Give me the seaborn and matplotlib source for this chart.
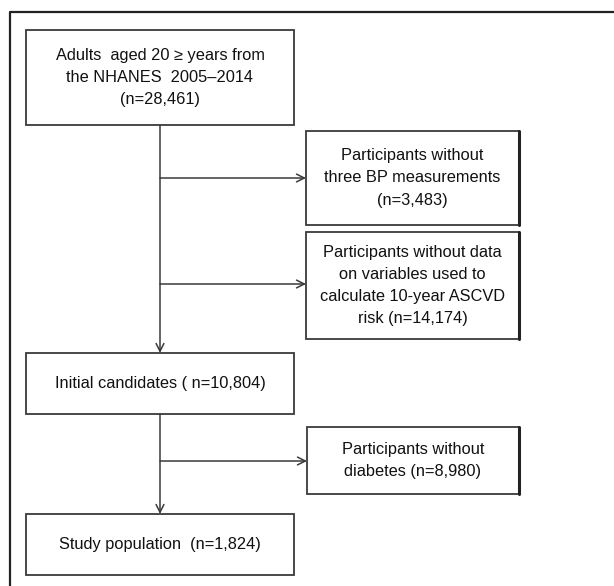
import matplotlib
matplotlib.use("Agg")
import matplotlib.pyplot as plt
import seaborn as sns
from matplotlib.patches import Rectangle

# -------------------------------
# Flowchart content
# -------------------------------
main_labels = [
    "Adults  aged 20 \u2265 years from\nthe NHANES  2005\u20132014\n(n={})",
    "Initial candidates ( n={})",
    "Study population  (n={})",
]
main_counts = [28461, 10804, 1824]

excl_labels = [
    "Participants without\nthree BP measurements\n(n={})",
    "Participants without data\non variables used to\ncalculate 10-year ASCVD\nrisk (n={})",
    "Participants without\ndiabetes (n={})",
]
excl_counts = [3483, 14174, 8980]

sns.set_theme(style="white")
plt.rcParams['font.family'] = ['Liberation Sans', 'DejaVu Sans']

fig = plt.figure(figsize=(6.14, 5.86), dpi=100)
ax = fig.add_axes([0, 0, 1, 1])
ax.set_xlim(0, 614)
ax.set_ylim(586, 0)
ax.axis("off")

line_col = "#3a3a3a"
fs = 11.8

# outer frame (cut off on right and bottom)
ax.plot([10, 10, 620], [600, 12, 12], color="#222222", lw=1.6, solid_capstyle="butt")

# box layout: (x0, y0, x1, y1)
main_boxes = [(26, 30, 294, 125), (26, 353, 294, 414), (26, 514, 294, 575)]
excl_boxes = [(306, 131, 519, 225), (306, 232, 519, 339), (307, 427, 519, 494)]
arrow_y = [178, 284, 461]


def draw_box(b, text):
    x0, y0, x1, y1 = b
    ax.add_patch(Rectangle((x0, y0), x1 - x0, y1 - y0, fill=False,
                           edgecolor=line_col, lw=1.3))
    ax.text((x0 + x1) / 2, (y0 + y1) / 2, text, ha="center", va="center",
            fontsize=fs, color="#111111", linespacing=1.6)


for b, lab, n in zip(main_boxes, main_labels, main_counts):
    draw_box(b, lab.format(f"{n:,}"))
for b, lab, n in zip(excl_boxes, excl_labels, excl_counts):
    draw_box(b, lab.format(f"{n:,}"))
    # slightly heavier right edge like the original
    ax.plot([b[2], b[2]], [b[1], b[3]], color="#222222", lw=2.2)

arrow_kw = dict(arrowstyle="->", color=line_col, lw=1.1, mutation_scale=14,
                shrinkA=0, shrinkB=0)
cx = 160
# vertical flow
ax.annotate("", xy=(cx, main_boxes[1][1]), xytext=(cx, main_boxes[0][3]), arrowprops=arrow_kw)
ax.annotate("", xy=(cx, main_boxes[2][1]), xytext=(cx, main_boxes[1][3]), arrowprops=arrow_kw)
# exclusion arrows
for b, y in zip(excl_boxes, arrow_y):
    ax.annotate("", xy=(b[0], y), xytext=(cx, y), arrowprops=arrow_kw)

fig.savefig("out.png", dpi=100, facecolor="white")
